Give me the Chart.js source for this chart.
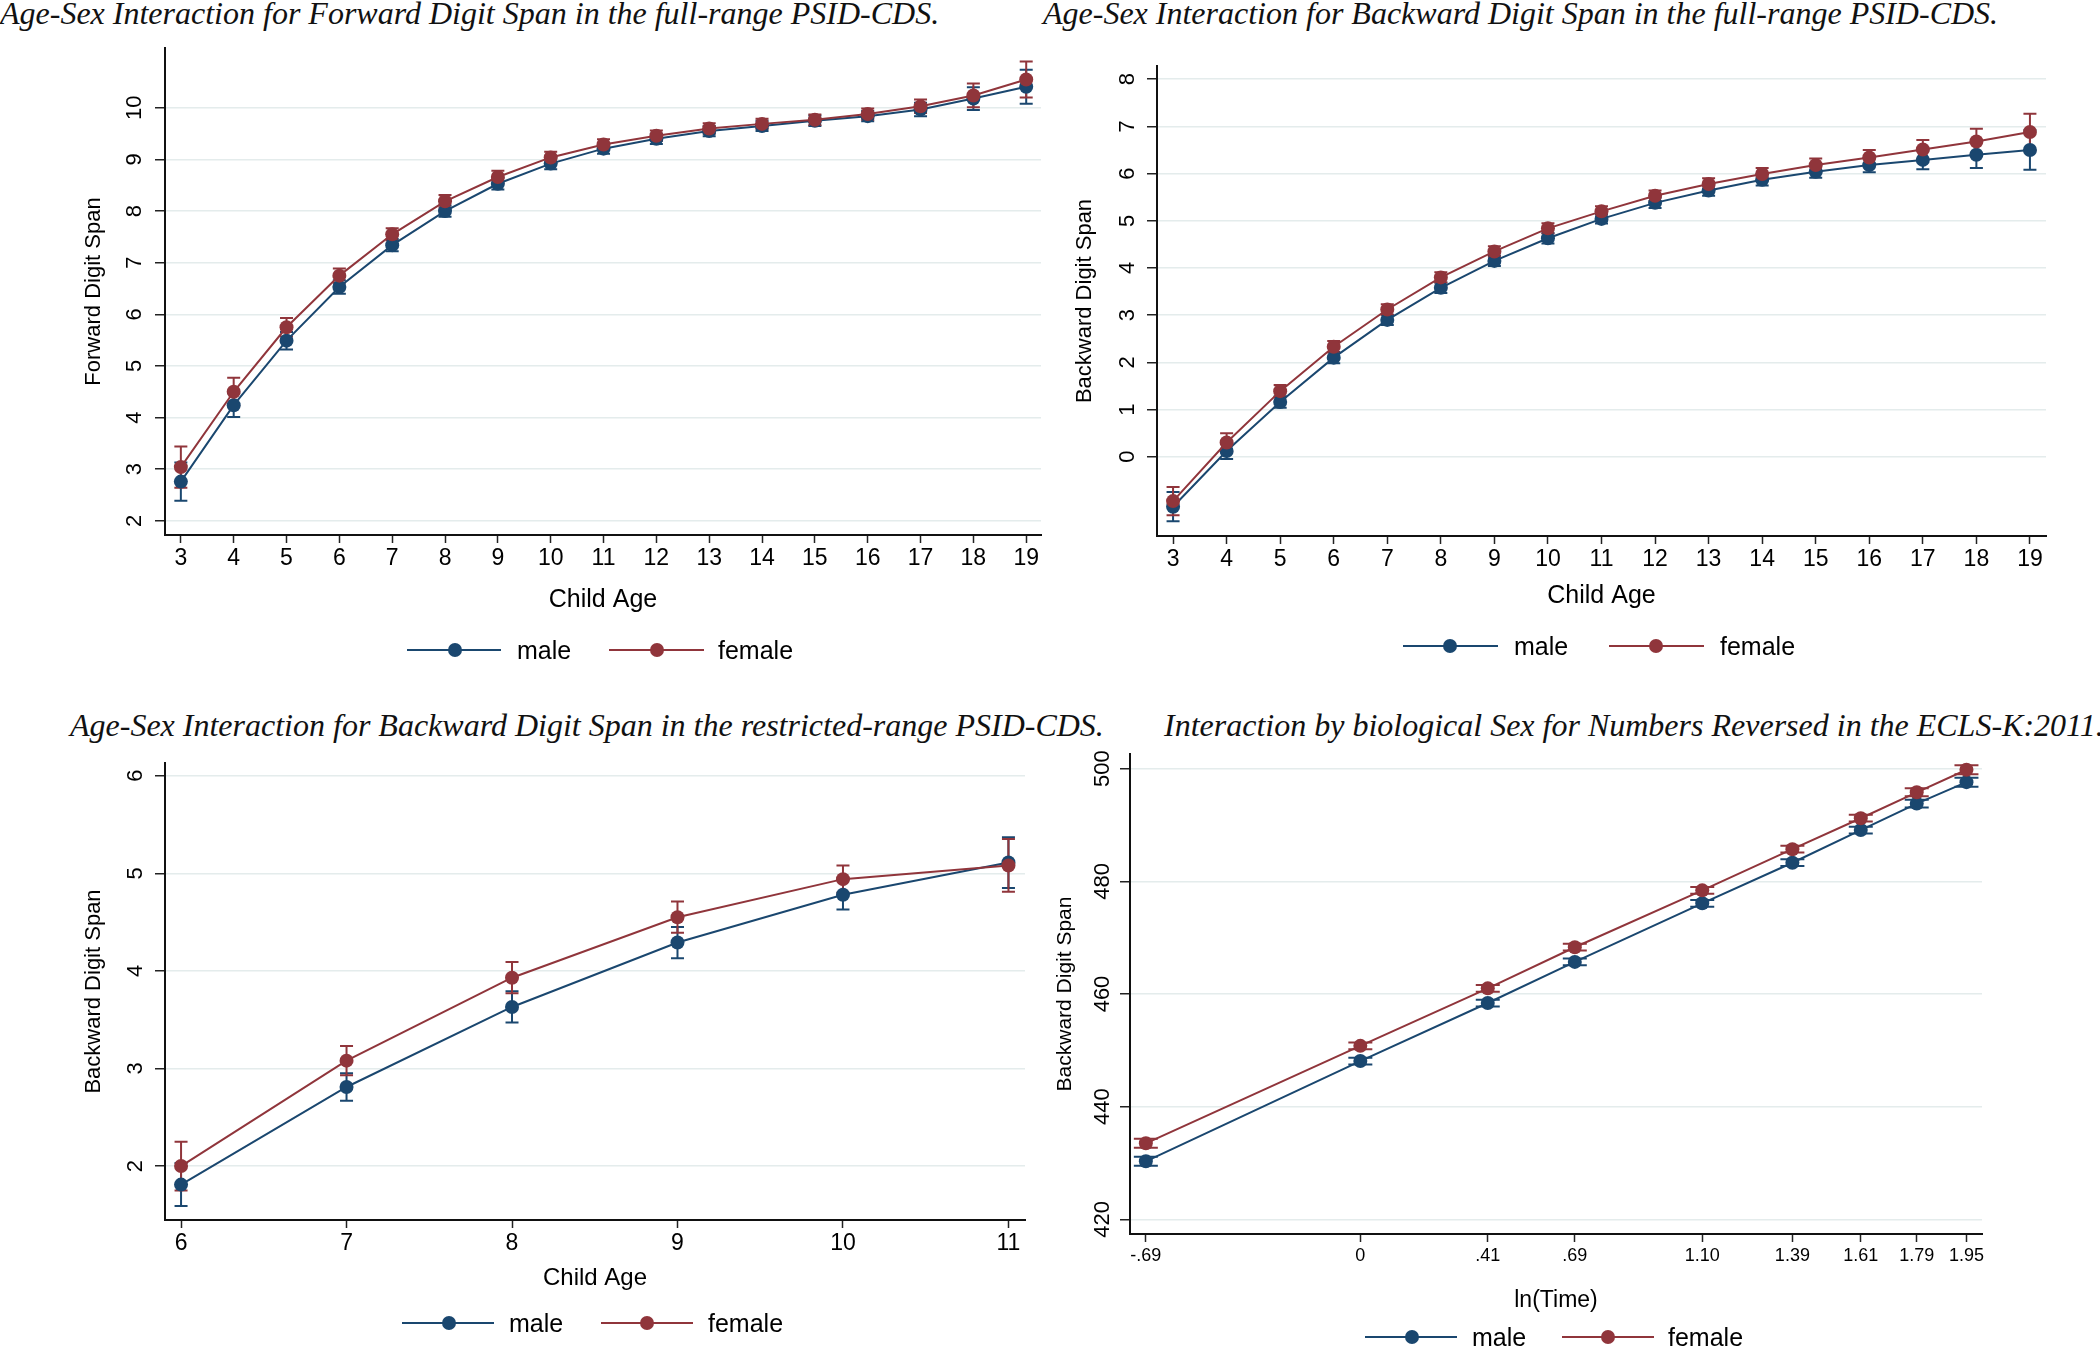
<!DOCTYPE html>
<html>
<head>
<meta charset="utf-8">
<script src="https://cdn.jsdelivr.net/npm/chart.js@4.4.1/dist/chart.umd.min.js"></script>
<style>
  body { margin:0; width:2100px; height:1347px; background:#fff; position:relative; overflow:hidden; font-family:"Liberation Sans", Arial, sans-serif; }
  .ttl { position:absolute; font-family:"Liberation Serif","Times New Roman",serif; font-style:italic; font-size:32px; line-height:32px; white-space:nowrap; color:#111; }
  .lgline { position:absolute; height:2px; }
  .lgdot { position:absolute; width:14px; height:14px; border-radius:50%; }
  .lgtxt { position:absolute; font-size:25px; line-height:30px; color:#000; white-space:nowrap; }
</style>
</head>
<body>
<script>
// ---- data ----
// full-range PSID-CDS, forward digit span
const ages = [3,4,5,6,7,8,9,10,11,12,13,14,15,16,17,18,19];
const fwdMale   = [2.76,4.24,5.49,6.53,7.34,8.00,8.53,8.92,9.21,9.40,9.55,9.65,9.75,9.84,9.97,10.18,10.41];
const fwdFemale = [3.04,4.50,5.75,6.75,7.55,8.19,8.66,9.04,9.29,9.46,9.60,9.69,9.77,9.88,10.03,10.24,10.55];
const fwdMaleCi   = [0.37,0.23,0.17,0.13,0.12,0.11,0.11,0.11,0.10,0.10,0.10,0.10,0.10,0.10,0.13,0.22,0.33];
const fwdFemaleCi = [0.40,0.27,0.18,0.14,0.12,0.12,0.12,0.11,0.10,0.10,0.10,0.10,0.10,0.11,0.13,0.23,0.35];
const fwdTicks = [2,3,4,5,6,7,8,9,10];

// full-range PSID-CDS, backward digit span
const bwdMale   = [-1.06,0.12,1.16,2.10,2.90,3.58,4.15,4.63,5.04,5.38,5.64,5.87,6.04,6.18,6.29,6.40,6.50];
const bwdFemale = [-0.94,0.30,1.39,2.33,3.12,3.80,4.35,4.84,5.20,5.53,5.78,5.99,6.18,6.34,6.51,6.68,6.88];
const bwdMaleCi   = [0.31,0.17,0.12,0.12,0.11,0.11,0.11,0.11,0.10,0.11,0.11,0.12,0.13,0.15,0.20,0.28,0.42];
const bwdFemaleCi = [0.30,0.20,0.13,0.12,0.11,0.11,0.11,0.11,0.11,0.11,0.12,0.13,0.14,0.16,0.20,0.27,0.39];
const bwdTicks = [0,1,2,3,4,5,6,7,8];

// restricted-range PSID-CDS
const agesR = [6,7,8,9,10,11];
const resMale   = [1.81,2.81,3.63,4.29,4.78,5.11];
const resFemale = [2.00,3.08,3.93,4.55,4.94,5.08];
const resMaleCi   = [0.22,0.14,0.16,0.16,0.15,0.26];
const resFemaleCi = [0.25,0.15,0.16,0.16,0.14,0.27];
const resTicks = [2,3,4,5,6];

// ECLS-K:2011 numbers reversed
const lnTime = [-0.69,0,0.41,0.69,1.10,1.39,1.61,1.79,1.95];
const lnTimeLabels = ['-.69','0','.41','.69','1.10','1.39','1.61','1.79','1.95'];
const eclsMale   = [430.3,448.1,458.4,465.7,476.1,483.3,489.1,493.8,497.6];
const eclsFemale = [433.5,450.8,461.0,468.3,478.4,485.7,491.2,495.8,499.8];
const eclsMaleCi   = [0.8,0.6,0.6,0.6,0.6,0.6,0.6,0.7,0.8];
const eclsFemaleCi = [0.8,0.6,0.6,0.6,0.6,0.6,0.6,0.7,0.8];
const eclsTicks = [420,440,460,480,500];

const NAVY = '#1a476f';
const MAROON = '#90353b';
const GRID = '#e4ecec';

// caps drawn through the chart's own scales
const errorBars = {
  id: 'errorBars',
  beforeDatasetsDraw(chart, args, opts) {
    const ctx = chart.ctx;
    const xs = chart.scales.x, ys = chart.scales.y;
    chart.data.datasets.forEach(ds => {
      ctx.save();
      ctx.strokeStyle = ds.borderColor;
      ctx.lineWidth = 2;
      ds.data.forEach((p, i) => {
        let px = xs.getPixelForValue(p.x);
        let top = ys.getPixelForValue(p.y + ds.ci[i]);
        let bot = ys.getPixelForValue(p.y - ds.ci[i]);
        let h = opts.cap / 2;
        ctx.beginPath();
        ctx.moveTo(px, top); ctx.lineTo(px, bot);
        ctx.moveTo(px - h, top); ctx.lineTo(px + h, top);
        ctx.moveTo(px - h, bot); ctx.lineTo(px + h, bot);
        ctx.stroke();
      });
      ctx.restore();
    });
  }
};

function makeTitle(text, x, top) {
  let d = document.createElement('div');
  d.className = 'ttl';
  d.style.left = x + 'px';
  d.style.top = top + 'px';
  d.textContent = text;
  document.body.appendChild(d);
}

function makeLegend(y, items) {
  items.forEach(it => {
    let ln = document.createElement('div');
    ln.className = 'lgline';
    ln.style.left = it.l1 + 'px'; ln.style.width = (it.l2 - it.l1) + 'px';
    ln.style.top = (y - 1) + 'px'; ln.style.background = it.color;
    document.body.appendChild(ln);
    let dot = document.createElement('div');
    dot.className = 'lgdot';
    dot.style.left = (it.m - 7) + 'px'; dot.style.top = (y - 7) + 'px';
    dot.style.background = it.color;
    document.body.appendChild(dot);
    let t = document.createElement('div');
    t.className = 'lgtxt';
    t.style.left = it.t + 'px'; t.style.top = (y - 15) + 'px';
    t.textContent = it.label;
    document.body.appendChild(t);
  });
}

function makePanel(p) {
  let cv = document.createElement('canvas');
  cv.width = p.box.w; cv.height = p.box.h;
  cv.style.position = 'absolute';
  cv.style.left = p.box.x + 'px';
  cv.style.top = p.box.y + 'px';
  document.body.appendChild(cv);

  let xTitleH = p.xTitleSize * 1.2;
  let yTitleH = p.yTitleSize * 1.2;
  let hx = p.xTitleGap + xTitleH / 2;
  let wy = p.yTitleGap + yTitleH / 2;
  let meas = cv.getContext('2d');
  meas.font = '22px "Liberation Sans"';
  let widest = Math.max(...p.yTicks.map(v => meas.measureText(String(v)).width));

  new Chart(cv, {
    type: 'line',
    data: {
      datasets: [
        { label: 'male', data: p.xs.map((x, i) => ({x: x, y: p.male[i]})), ci: p.maleCi,
          borderColor: NAVY, backgroundColor: NAVY, pointBackgroundColor: NAVY,
          borderWidth: 2, pointRadius: 7, pointBorderWidth: 0, tension: 0, order: 1 },
        { label: 'female', data: p.xs.map((x, i) => ({x: x, y: p.female[i]})), ci: p.femaleCi,
          borderColor: MAROON, backgroundColor: MAROON, pointBackgroundColor: MAROON,
          borderWidth: 2, pointRadius: 7, pointBorderWidth: 0, tension: 0, order: 0 }
      ]
    },
    options: {
      responsive: false,
      animation: false,
      events: [],
      layout: { padding: {
        left: p.area.l - p.box.x - wy,
        top: p.area.t - p.box.y,
        right: p.box.x + p.box.w - p.area.r,
        bottom: p.box.y + p.box.h - p.area.b - hx
      }},
      plugins: { legend: {display: false}, tooltip: {enabled: false}, errorBars: {cap: p.cap} },
      scales: {
        x: {
          type: 'linear', min: p.xMin, max: p.xMax,
          afterBuildTicks: s => { s.ticks = p.xTicks.map(v => ({value: v})); },
          afterFit: s => { s.height = hx; s.paddingLeft = 0; s.paddingRight = 0; },
          ticks: {
            autoSkip: false, maxRotation: 0, padding: p.xTickPad, color: '#000',
            font: {family: '"Liberation Sans", Arial, sans-serif', size: p.xTickSize},
            callback: (v, i) => p.xLabels ? p.xLabels[i] : String(v)
          },
          grid: { drawOnChartArea: false, drawTicks: true, tickLength: 8, tickColor: '#222', tickWidth: 1.5 },
          border: { display: true, color: '#111', width: 2 },
          title: { display: true, text: p.xTitle, color: '#000', padding: 0,
            font: {family: '"Liberation Sans", Arial, sans-serif', size: p.xTitleSize} }
        },
        y: {
          type: 'linear', min: p.yMin, max: p.yMax,
          afterBuildTicks: s => { s.ticks = p.yTicks.map(v => ({value: v})); },
          afterFit: s => { s.width = wy; s.paddingTop = 0; s.paddingBottom = 0; },
          ticks: {
            minRotation: 90, maxRotation: 90, crossAlign: 'center', color: '#000',
            padding: p.yLabelGap - 10 - widest / 2,
            font: {family: '"Liberation Sans", Arial, sans-serif', size: 22}
          },
          grid: { color: GRID, lineWidth: 1.5, drawTicks: true, tickLength: 10, tickColor: '#222', tickWidth: 1.5 },
          border: { display: true, color: '#111', width: 2 },
          title: { display: true, text: p.yTitle, color: '#000', padding: 0,
            font: {family: '"Liberation Sans", Arial, sans-serif', size: p.yTitleSize} }
        }
      }
    },
    plugins: [errorBars]
  });
}

// ---- titles ----
makeTitle('Age-Sex Interaction for Forward Digit Span in the full-range PSID-CDS.', 0, -3);
makeTitle('Age-Sex Interaction for Backward Digit Span in the full-range PSID-CDS.', 1043, -3);
makeTitle('Age-Sex Interaction for Backward Digit Span in the restricted-range PSID-CDS.', 70, 709);
makeTitle('Interaction by biological Sex for Numbers Reversed in the ECLS-K:2011.', 1164, 709);

// ---- panels ----
makePanel({
  box: {x: 0, y: 20, w: 1050, h: 620}, area: {l: 165, t: 48, r: 1041, b: 535},
  xs: ages, male: fwdMale, female: fwdFemale, maleCi: fwdMaleCi, femaleCi: fwdFemaleCi,
  xMin: 2.70, xMax: 19.28, yMin: 1.725, yMax: 11.16, xTicks: ages, yTicks: fwdTicks,
  xTitle: 'Child Age', yTitle: 'Forward Digit Span',
  xTitleSize: 25, yTitleSize: 22, xTickSize: 23, xTickPad: 2,
  xTitleGap: 65, yTitleGap: 71, yLabelGap: 30, cap: 13
});
makePanel({
  box: {x: 1050, y: 20, w: 1050, h: 620}, area: {l: 1157, t: 66, r: 2046, b: 536},
  xs: ages, male: bwdMale, female: bwdFemale, maleCi: bwdMaleCi, femaleCi: bwdFemaleCi,
  xMin: 2.70, xMax: 19.30, yMin: -1.68, yMax: 8.28, xTicks: ages, yTicks: bwdTicks,
  xTitle: 'Child Age', yTitle: 'Backward Digit Span',
  xTitleSize: 25, yTitleSize: 22, xTickSize: 23, xTickPad: 2,
  xTitleGap: 60, yTitleGap: 72, yLabelGap: 29, cap: 13
});
makePanel({
  box: {x: 0, y: 750, w: 1050, h: 580}, area: {l: 165, t: 763, r: 1025, b: 1220},
  xs: agesR, male: resMale, female: resFemale, maleCi: resMaleCi, femaleCi: resFemaleCi,
  xMin: 5.903, xMax: 11.10, yMin: 1.447, yMax: 6.13, xTicks: agesR, yTicks: resTicks,
  xTitle: 'Child Age', yTitle: 'Backward Digit Span',
  xTitleSize: 24, yTitleSize: 22, xTickSize: 23, xTickPad: 2,
  xTitleGap: 58.6, yTitleGap: 71, yLabelGap: 29, cap: 13
});
makePanel({
  box: {x: 1050, y: 745, w: 1050, h: 602}, area: {l: 1130, t: 754, r: 1982, b: 1234},
  xs: lnTime, male: eclsMale, female: eclsFemale, maleCi: eclsMaleCi, femaleCi: eclsFemaleCi,
  xMin: -0.741, xMax: 2.0, yMin: 417.4, yMax: 502.6, xTicks: lnTime, xLabels: lnTimeLabels, yTicks: eclsTicks,
  xTitle: 'ln(Time)', yTitle: 'Backward Digit Span',
  xTitleSize: 23, yTitleSize: 21, xTickSize: 18, xTickPad: 3,
  xTitleGap: 67, yTitleGap: 65, yLabelGap: 27, cap: 24
});

// ---- legends ----
makeLegend(650, [
  {color: NAVY, l1: 407, l2: 501, m: 455, t: 517, label: 'male'},
  {color: MAROON, l1: 609, l2: 704, m: 657, t: 718, label: 'female'}
]);
makeLegend(646, [
  {color: NAVY, l1: 1403, l2: 1498, m: 1450, t: 1514, label: 'male'},
  {color: MAROON, l1: 1609, l2: 1704, m: 1656, t: 1720, label: 'female'}
]);
makeLegend(1323, [
  {color: NAVY, l1: 402, l2: 494, m: 449, t: 509, label: 'male'},
  {color: MAROON, l1: 601, l2: 693, m: 647, t: 708, label: 'female'}
]);
makeLegend(1337, [
  {color: NAVY, l1: 1365, l2: 1457, m: 1412, t: 1472, label: 'male'},
  {color: MAROON, l1: 1562, l2: 1654, m: 1608, t: 1668, label: 'female'}
]);
</script>
</body>
</html>
